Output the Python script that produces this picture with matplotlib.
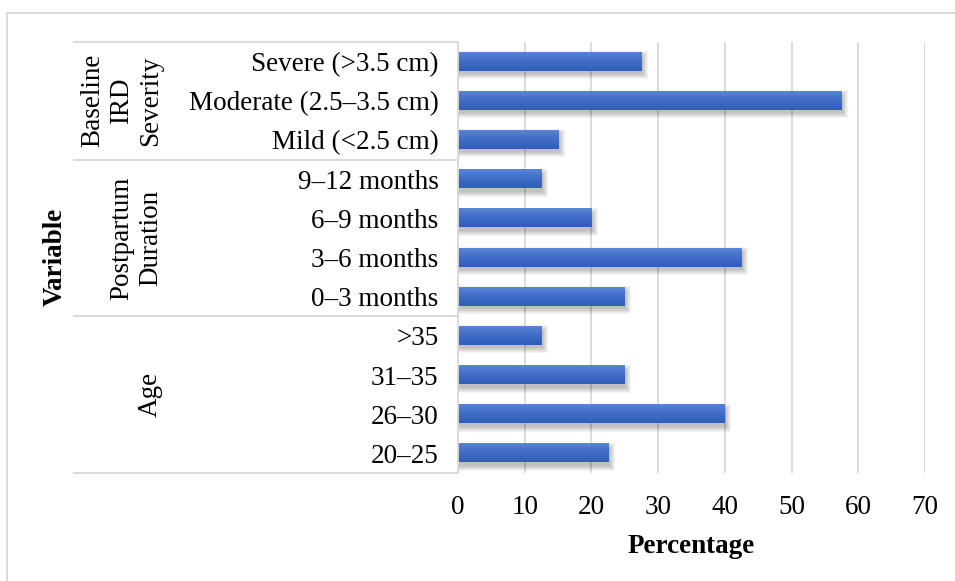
import numpy as np
import matplotlib
matplotlib.use("Agg")
import matplotlib.pyplot as plt
from matplotlib.patches import Rectangle
import matplotlib.transforms as mtransforms

plt.rcParams["font.family"] = ["Liberation Serif", "DejaVu Serif"]

# data, bottom to top as drawn
categories = ["20–25", "26–30", "31–35", ">35",
              "0–3 months", "3–6 months", "6–9 months", "9–12 months",
              "Mild (<2.5 cm)", "Moderate (2.5–3.5 cm)", "Severe (>3.5 cm)"]
percent = [22.5, 40, 25, 12.5,
           25, 42.5, 20, 12.5,
           15, 57.5, 27.5]
group_names = ["Age", "Postpartum\nDuration", "Baseline\nIRD\nSeverity"]
group_sizes = [4, 4, 3]
xticks = [0, 10, 20, 30, 40, 50, 60, 70]

W, H = 955, 581
fig = plt.figure(figsize=(W / 100, H / 100), dpi=100)
ax = fig.add_axes([458 / W, 1 - 473 / H, (925 - 458) / W, (473 - 42) / H])

grid_c = "#D9D9D9"
fs = 19.5
y = np.arange(len(categories))
bh = 0.46

# soft shadow under the bars
px = 70 / 467  # one pixel in x data units
py = 11 / 431
for k in range(6):
    grow = k * 1.0
    ax.barh(y - 3.5 * py, np.array(percent) + 1.5 * px + grow * px, height=bh + grow * py * 2,
            left=0, color="black", alpha=0.045, zorder=2, linewidth=0)

# gradient-filled bars (light on top, darker at the bottom)
grad = np.linspace(0, 1, 50).reshape(-1, 1)
cmap = matplotlib.colors.LinearSegmentedColormap.from_list("b", ["#2F5EBB", "#3F6CC7", "#5885D5"])
for yi, v in zip(y, percent):
    ax.imshow(grad, cmap=cmap, aspect="auto", origin="lower",
              extent=(0, v, yi - bh / 2, yi + bh / 2),
              zorder=3, interpolation="bilinear")

ax.set_xlim(0, 70)
ax.set_ylim(-0.5, len(categories) - 0.5)
ax.set_xticks(xticks)
ax.set_yticks(y)
ax.set_yticklabels(categories)
ax.tick_params(axis="y", length=0, pad=14, labelsize=fs)
ax.tick_params(axis="x", length=0, pad=16, labelsize=fs)
ax.grid(axis="x", color=grid_c, linewidth=1.3, zorder=0)
ax.set_axisbelow(True)
for s in ["top", "right", "bottom"]:
    ax.spines[s].set_visible(False)
ax.spines["left"].set_color(grid_c)
ax.spines["left"].set_linewidth(1.3)
ax.spines["left"].set_zorder(4)

ax.set_xlabel("Percentage", fontsize=fs, fontweight="bold", labelpad=10)

# multi-level category axis: separators and group labels
trans = mtransforms.blended_transform_factory(ax.transAxes, ax.transData)
x_left = (74 - 458) / 467
x_glabel = (163 - 458) / 467
edges = np.concatenate([[0], np.cumsum(group_sizes)]) - 0.5
for e in edges:
    ax.plot([x_left, 0], [e, e], transform=trans, color=grid_c, linewidth=1.3,
            clip_on=False, zorder=1)
for name, lo, hi in zip(group_names, edges[:-1], edges[1:]):
    ax.text(x_glabel, (lo + hi) / 2, name, transform=trans, rotation=90,
            ha="right", va="center", multialignment="center", fontsize=fs,
            linespacing=1.2)

fig.text(55 / W, 1 - 257 / H, "Variable", rotation=90, ha="center", va="center",
         fontsize=fs, fontweight="bold")

# outer chart border (left and top visible)
fig.patches.append(Rectangle((7 / W, -0.1), 1.2, 1 - 13 / H + 0.1, transform=fig.transFigure,
                             fill=False, edgecolor=grid_c, linewidth=1.3))

fig.savefig("out.png", dpi=100)
